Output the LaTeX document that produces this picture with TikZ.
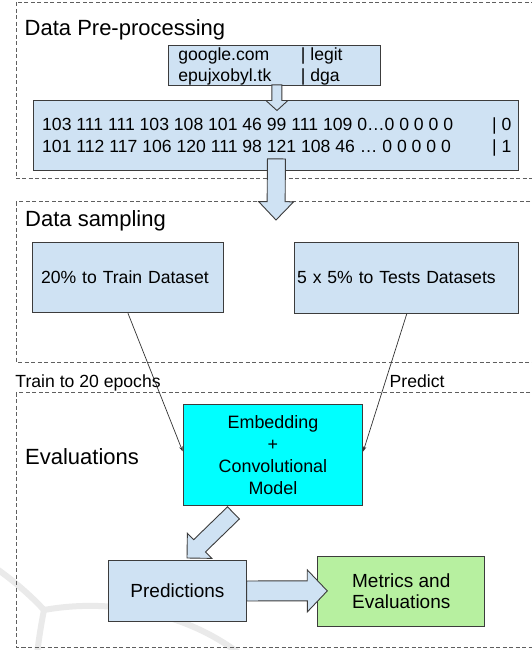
\documentclass[tikz,border=0pt]{standalone}
\usepackage{fontspec}
\setmainfont{Liberation Sans}
\usetikzlibrary{calc,arrows.meta}
\definecolor{boxblue}{RGB}{207,226,243}
\definecolor{boxline}{RGB}{60,60,60}
\definecolor{embcyan}{RGB}{0,255,255}
\definecolor{metgreen}{RGB}{183,240,160}
\definecolor{frameline}{RGB}{95,95,95}
\definecolor{wmark}{RGB}{234,234,234}
\definecolor{connline}{RGB}{50,50,50}
% block arrow: #1 tail, #2 tip, #3 shaft half width, #4 head half width, #5 head length
\newcommand{\blkarrow}[5]{%
  \coordinate (ba-b) at ($(#2)!#5!(#1)$);
  \draw[blockarrow] ($(#1)!#3!90:(#2)$) -- ($(ba-b)!#3!-90:(#1)$) -- ($(ba-b)!#4!-90:(#1)$)
    -- (#2) -- ($(ba-b)!#4!90:(#1)$) -- ($(ba-b)!#3!90:(#1)$) -- ($(#1)!#3!-90:(#2)$) -- cycle;
}
\begin{document}
\begin{tikzpicture}[x=1pt,y=-1pt,
  frame/.style={draw=frameline,line width=0.8pt,dash pattern=on 4pt off 2.5pt},
  bluebox/.style={draw=boxline,fill=boxblue,line width=0.9pt,inner sep=0pt,anchor=north west},
  bodyfont/.style={font=\fontsize{17.6}{21.7}\selectfont},
  titlefont/.style={font=\fontsize{22}{26}\selectfont},
  bigfont/.style={font=\fontsize{19}{20.5}\selectfont},
  blockarrow/.style={draw=boxline,fill=boxblue,line width=0.9pt,line join=miter},
  conn/.style={draw=connline,line width=0.7pt,-{Stealth[length=5pt,width=3.5pt]}},
  wm/.style={draw=wmark,line width=6pt},
  lbl/.style={bodyfont,anchor=base west,inner sep=0pt},
  ttl/.style={titlefont,anchor=base west,inner sep=0pt}
]
\useasboundingbox (0,0) rectangle (532,650);
\clip (0,0) rectangle (532,650);
\fill[white] (0,0) rectangle (532,650);

% faint watermark
\draw[wm] (-3,569) .. controls (18,584) and (34,599) .. (44,610);
\draw[wm] (44,610) .. controls (41,625) and (39,638) .. (37,654);
\draw[wm] (44,610) .. controls (110,598) and (185,612) .. (240,654);

% section frames
\draw[frame] (16,2.5) rectangle (545,178.3);
\draw[frame] (16,201.7) rectangle (545,362);
\draw[frame] (16,392.5) rectangle (545,647);

% titles
\node[ttl] (t1) at (24.5,35.2) {Data Pre-processing};
\node[ttl] (t2) at (25,226.9) {Data sampling};
\node[ttl] (t3) at (25,464.6) {Evaluations};

% pre-processing boxes
\node[bluebox,minimum width=212.3pt,minimum height=40pt] (raw) at (167.7,45) {};
\node[lbl] (raw1) at ($(raw.north west)+(10.5,15.5)$) {\makebox[122.5pt][l]{google.com}| legit};
\node[lbl] (raw2) at ($(raw.north west)+(10.5,36.5)$) {\makebox[122.5pt][l]{epujxobyl.tk}| dga};

\node[bluebox,minimum width=485pt,minimum height=70pt] (enc) at (33,100) {};
\node[lbl] (enc1) at ($(enc.north west)+(9,30.5)$) {\makebox[450pt][l]{103 111 111 103 108 101 46 99 111 109 0…0 0 0 0 0}| 0};
\node[lbl] (enc2) at ($(enc.north west)+(9,52)$) {\makebox[450pt][l]{101 112 117 106 120 111 98 121 108 46 … 0 0 0 0 0}| 1};

\coordinate (a1s) at ($(raw.south)+(2.6,-1)$);
\coordinate (a1t) at ($(enc.north)+(1,10.5)$);
\blkarrow{a1s}{a1t}{5pt}{11pt}{10pt}

\coordinate (a2s) at ($(enc.south)+(0.5,-12)$);
\coordinate (a2t) at (276,220);
\blkarrow{a2s}{a2t}{9pt}{17.5pt}{18.3pt}

% sampling boxes
\node[bluebox,bodyfont,minimum width=190.4pt,minimum height=70.6pt,text width=173.6pt,inner xsep=8.4pt,align=left] (train) at (32.3,241.7) {20\% to Train Dataset};
\node[bluebox,bodyfont,minimum width=224pt,minimum height=71.3pt,text width=219.2pt,inner xsep=2.4pt,align=left] (test) at (294.3,241.7) {5 x 5\% to Tests Datasets};

% evaluation boxes
\node[draw=boxline,fill=embcyan,line width=0.9pt,inner sep=0pt,anchor=north west,
      minimum width=179.6pt,minimum height=101pt,align=center,
      font=\fontsize{17.9}{21.9}\selectfont] (emb) at (182.7,404) {Embedding\\+\\Convolutional\\Model};

\node[lbl] (ltrain) at (15.3,387) {Train to 20 epochs};
\node[lbl] (lpred) at (389.5,387) {Predict};

\draw[conn] (train.south) -- ([yshift=3.5pt]emb.west);
\draw[conn] (test.south) -- ([yshift=3.5pt]emb.east);

\node[bluebox,bigfont,minimum width=137.4pt,minimum height=61pt] (pred) at (108.3,560) {Predictions};
\node[draw=boxline,fill=metgreen,line width=0.9pt,inner sep=0pt,anchor=north west,
      minimum width=167pt,minimum height=70.3pt,align=center,bigfont] (met) at (317.3,555.7) {Metrics and\\Evaluations};

\coordinate (a3s) at ($(emb.south)+(-39.5,7)$);
\coordinate (a3t) at ($(pred.north west)+(78.7,-2)$);
\blkarrow{a3s}{a3t}{8.5pt}{17.5pt}{17.5pt}

\coordinate (a4s) at (pred.east);
\coordinate (a4t) at ($(met.west)+(10,-0.4)$);
\blkarrow{a4s}{a4t}{10pt}{21pt}{20pt}
\end{tikzpicture}
\end{document}
